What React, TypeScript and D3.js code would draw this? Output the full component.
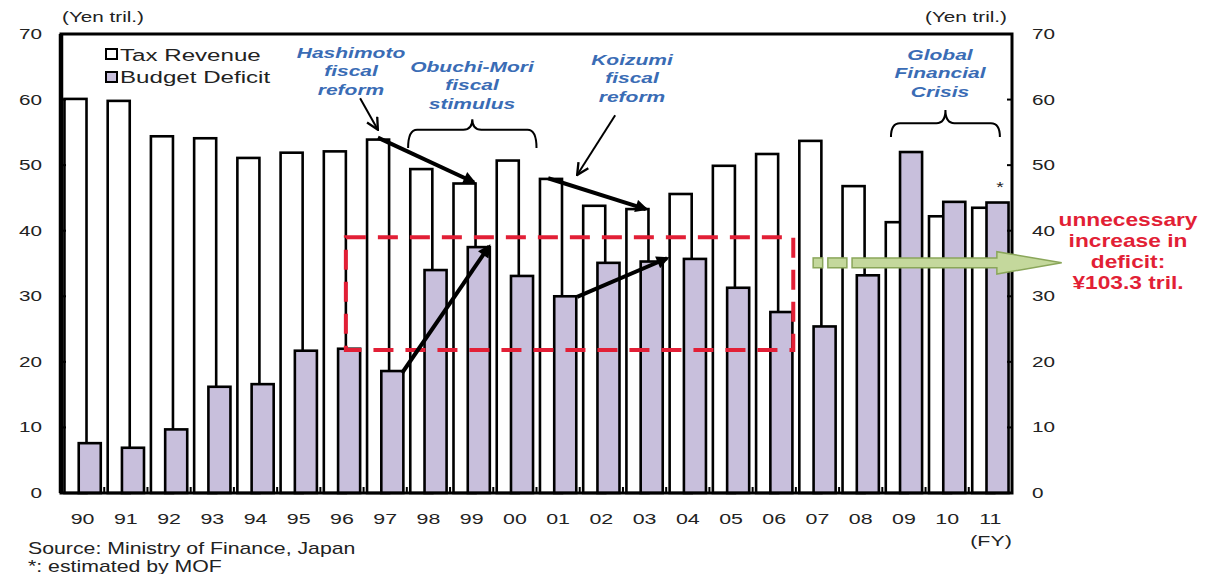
import * as d3 from "d3";

// data
const years = ["90", "91", "92", "93", "94", "95", "96", "97", "98", "99", "00", "01", "02", "03", "04", "05", "06", "07", "08", "09", "10", "11"];
const taxRevenue = [60.1, 59.8, 54.4, 54.1, 51.1, 51.9, 52.1, 53.9, 49.4, 47.2, 50.7, 47.9, 43.8, 43.3, 45.6, 49.9, 51.7, 53.7, 46.8, 41.3, 42.2, 43.5];
const budgetDeficit = [7.6, 6.9, 9.7, 16.2, 16.6, 21.7, 22.0, 18.6, 34.0, 37.5, 33.1, 30.0, 35.1, 35.3, 35.7, 31.3, 27.6, 25.4, 33.2, 52.0, 44.4, 44.3];
const yTicks = [0, 10, 20, 30, 40, 50, 60, 70];

// annotations in data terms: [year, fraction of band, value]
type Pt = [string, number, number];
const thinArrows: { from: Pt; to: Pt }[] = [
  { from: ["97", -0.08, 60.2], to: ["97", 0.33, 55.4] },
  { from: ["02", 0.82, 57.6], to: ["01", 0.94, 48.5] },
];
const thickArrows: { from: Pt; to: Pt }[] = [
  { from: ["97", 0.33, 54.2], to: ["99", 0.55, 47.4] },
  { from: ["01", 0.27, 48.0], to: ["03", 0.53, 43.3] },
  { from: ["97", 0.89, 18.3], to: ["99", 0.9, 37.6] },
  { from: ["01", 0.94, 29.9], to: ["03", 1.02, 35.8] },
];
const braces = [
  { from: ["98", 0.03], to: ["00", 1.0], base: 52.6, mid: 55.4, peak: 57.0 },
  { from: ["09", 0.2], to: ["11", 0.72], base: 54.3, mid: 56.4, peak: 58.4 },
];
const deficitBox = { from: ["96", 0.59], to: ["06", 0.94], low: 21.8, high: 39.0 };
const greenArrow = { cat: "07", dashes: [[0.4, 0.62], [0.74, 1.18]], bodyStart: 1.3, headStart: 4.65, tip: 6.15, value: 35.1, body: 0.75, head: 1.7 };

const annotations = [
  { lines: ["Hashimoto", "fiscal", "reform"], x: 351, y: 53 },
  { lines: ["Obuchi-Mori", "fiscal", "stimulus"], x: 472, y: 67 },
  { lines: ["Koizumi", "fiscal", "reform"], x: 632, y: 60 },
  { lines: ["Global", "Financial", "Crisis"], x: 940, y: 55 },
];
const redNote = ["unnecessary", "increase in", "deficit:", "¥103.3 tril."];

const FONT = "'Liberation Sans', Arial, sans-serif";
const DEFICIT = "#c8bfdc";
const BLUE = "#3a6cb5";
const RED = "#e21f36";

function T({ x, y, size = 15, sx = 1.38, anchor = "middle", weight = "normal", italic = false, fill = "#222", children }: any) {
  return (
    <text
      transform={`translate(${x},${y}) scale(${sx},1)`}
      textAnchor={anchor}
      dominantBaseline="central"
      fontFamily={FONT}
      fontSize={size}
      fontWeight={weight}
      fontStyle={italic ? "italic" : "normal"}
      fill={fill}
    >
      {children}
    </text>
  );
}

export default function App() {
  const W = 1212;
  const H = 574;
  const left = 61, right = 1012, top = 34, bottom = 493;

  const x = d3.scaleBand<string>().domain(years).range([left, right]);
  const y = d3.scaleLinear().domain([0, 70]).range([bottom, top]);
  const bw = x.bandwidth();
  const barW = bw * 0.51;
  const taxOff = bw * 0.08;
  const defOff = bw * 0.41;

  const px = (cat: string, f: number) => (x(cat) as number) + f * bw;
  const line = (p: Pt, q: Pt) => `M${px(p[0], p[1])},${y(p[2])}L${px(q[0], q[1])},${y(q[2])}`;

  const bracePath = (b: any) => {
    const x1 = px(b.from[0], b.from[1]);
    const x2 = px(b.to[0], b.to[1]);
    const xc = (x1 + x2) / 2;
    const yb = y(b.base), ym = y(b.mid), yp = y(b.peak);
    const r = 9;
    return `M${x1},${yb}Q${x1},${ym} ${x1 + r},${ym}L${xc - r},${ym}Q${xc},${ym} ${xc},${yp}Q${xc},${ym} ${xc + r},${ym}L${x2 - r},${ym}Q${x2},${ym} ${x2},${yb}`;
  };

  const g0 = x(greenArrow.cat) as number;
  const gy = y(greenArrow.value);
  const gb = y(greenArrow.value - greenArrow.body) - gy;
  const gh = y(greenArrow.value - greenArrow.head) - gy;
  const gx = (f: number) => g0 + f * bw;
  const greenPath = `M${gx(greenArrow.bodyStart)},${gy - gb}L${gx(greenArrow.headStart)},${gy - gb}L${gx(greenArrow.headStart)},${gy - gh}L${gx(greenArrow.tip)},${gy}L${gx(greenArrow.headStart)},${gy + gh}L${gx(greenArrow.headStart)},${gy + gb}L${gx(greenArrow.bodyStart)},${gy + gb}Z`;

  return (
    <svg width={W} height={H} style={{ position: "absolute", left: 0, top: 0, background: "#fff" }}>
      <defs>
        <marker id="headThick" viewBox="0 0 10 10" refX="8" refY="5" markerWidth="3.6" markerHeight="3.2" orient="auto">
          <path d="M0,0L10,5L0,10z" fill="#000" />
        </marker>
        <marker id="headThin" viewBox="0 0 12 12" refX="11" refY="6" markerUnits="userSpaceOnUse" markerWidth="14" markerHeight="14" orient="auto">
          <path d="M1,1L11,6L1,11" fill="none" stroke="#000" strokeWidth="2" />
        </marker>
      </defs>

      {/* bars */}
      {years.map((yr, i) => (
        <rect key={"t" + yr} x={(x(yr) as number) + taxOff} y={y(taxRevenue[i])} width={barW} height={bottom - y(taxRevenue[i])} fill="#fff" stroke="#000" strokeWidth={2.6} />
      ))}
      {years.map((yr, i) => (
        <rect key={"d" + yr} x={(x(yr) as number) + defOff} y={y(budgetDeficit[i])} width={barW} height={bottom - y(budgetDeficit[i])} fill={DEFICIT} stroke="#000" strokeWidth={2.6} />
      ))}

      {/* frame and ticks */}
      <rect x={left} y={top} width={right - left} height={bottom - top} fill="none" stroke="#000" strokeWidth={3} />
      <line x1={left} x2={left} y1={top} y2={bottom} stroke="#000" strokeWidth={4.5} />
      {yTicks.slice(1, -1).map((t) => (
        <g key={"yt" + t}>
          <line x1={left} x2={left + 5} y1={y(t)} y2={y(t)} stroke="#000" strokeWidth={2} />
          <line x1={right - 5} x2={right} y1={y(t)} y2={y(t)} stroke="#000" strokeWidth={2} />
        </g>
      ))}
      {years.slice(1).map((yr) => (
        <line key={"xt" + yr} x1={x(yr)} x2={x(yr)} y1={bottom} y2={bottom - 6} stroke="#000" strokeWidth={2} />
      ))}

      {/* axis labels */}
      {yTicks.map((t) => (
        <g key={"yl" + t}>
          <T x={42} y={y(t)} anchor="end">{t}</T>
          <T x={1032} y={y(t)} anchor="start">{t}</T>
        </g>
      ))}
      <T x={62} y={17} anchor="start">(Yen tril.)</T>
      <T x={1007} y={17} anchor="end">(Yen tril.)</T>
      {years.map((yr) => (
        <T key={"xl" + yr} x={(x(yr) as number) + bw / 2} y={519} size={15.5}>{yr}</T>
      ))}
      <T x={991} y={541} size={15.5}>(FY)</T>

      {/* legend */}
      <rect x={106} y={49} width={11} height={10} fill="#fff" stroke="#000" strokeWidth={2} />
      <T x={120} y={55} size={17} anchor="start" sx={1.42}>Tax Revenue</T>
      <rect x={106} y={72} width={11} height={10} fill={DEFICIT} stroke="#000" strokeWidth={2} />
      <T x={120} y={77} size={17} anchor="start" sx={1.42}>Budget Deficit</T>

      {/* red dashed box */}
      <rect
        x={px(deficitBox.from[0] as string, deficitBox.from[1] as number)}
        y={y(deficitBox.high)}
        width={px(deficitBox.to[0] as string, deficitBox.to[1] as number) - px(deficitBox.from[0] as string, deficitBox.from[1] as number)}
        height={y(deficitBox.low) - y(deficitBox.high)}
        fill="none"
        stroke={RED}
        strokeWidth={4}
        strokeDasharray="20 12"
      />

      {/* arrows */}
      {thinArrows.map((a, i) => (
        <path key={"ta" + i} d={line(a.from, a.to)} stroke="#000" strokeWidth={2} fill="none" markerEnd="url(#headThin)" />
      ))}
      {thickArrows.map((a, i) => (
        <path key={"ka" + i} d={line(a.from, a.to)} stroke="#000" strokeWidth={4} fill="none" markerEnd="url(#headThick)" />
      ))}

      {/* braces */}
      {braces.map((b, i) => (
        <path key={"b" + i} d={bracePath(b)} stroke="#000" strokeWidth={2} fill="none" />
      ))}

      {/* green arrow */}
      {greenArrow.dashes.map((d, i) => (
        <rect key={"gd" + i} x={gx(d[0])} y={gy - gb} width={gx(d[1]) - gx(d[0])} height={gb * 2} fill="#c4d89c" stroke="#8aa65a" strokeWidth={1.5} />
      ))}
      <path d={greenPath} fill="#c4d89c" stroke="#8aa65a" strokeWidth={1.5} />

      {/* estimated marker */}
      <T x={px("11", 0.72)} y={y(46.6)} size={14}>*</T>

      {/* annotations */}
      {annotations.map((a, i) => (
        <g key={"an" + i}>
          {a.lines.map((l, j) => (
            <T key={j} x={a.x} y={a.y + j * 18.5} size={14.5} sx={1.45} weight="bold" italic fill={BLUE}>{l}</T>
          ))}
        </g>
      ))}
      {redNote.map((l, j) => (
        <T key={"rn" + j} x={1128} y={220 + j * 21} size={17.5} sx={1.3} weight="bold" fill={RED}>{l}</T>
      ))}

      {/* source */}
      <T x={28} y={548} size={16} sx={1.33} anchor="start">Source: Ministry of Finance, Japan</T>
      <T x={28} y={566} size={16} sx={1.33} anchor="start">*: estimated by MOF</T>
    </svg>
  );
}
